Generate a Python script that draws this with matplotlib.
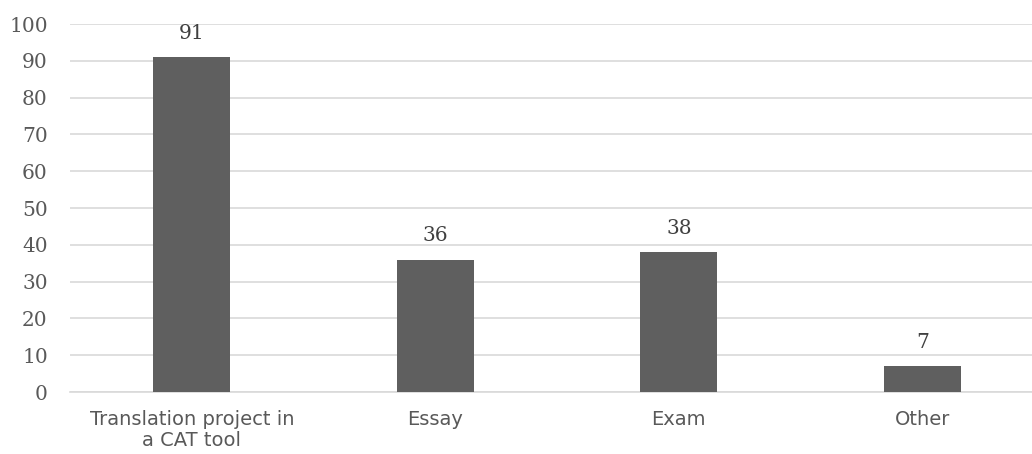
import matplotlib.pyplot as plt

categories = ["Translation project in\na CAT tool", "Essay", "Exam", "Other"]
values = [91, 36, 38, 7]
y_ticks = [0, 10, 20, 30, 40, 50, 60, 70, 80, 90, 100]

BAR_COLOR = "#5f5f5f"
TEXT_COLOR = "#404040"
GRID_COLOR = "#d9d9d9"

fig = plt.figure(figsize=(10.32, 4.54), dpi=100)
ax = fig.add_axes([70 / 1032, 1 - 392 / 454, 1 - 70 / 1032, (392 - 24) / 454])

x = list(range(len(categories)))
ax.bar(x, values, width=0.316, color=BAR_COLOR, zorder=3)

# value labels sit a fixed distance above each bar
for xi, v in zip(x, values):
    ax.annotate(str(v), (xi, v), xytext=(0, 13), textcoords="offset points",
                ha="center", va="baseline", fontsize=14.5,
                family="DejaVu Serif", color=TEXT_COLOR)

ax.set_xlim(-0.5, 3.45)
ax.set_ylim(0, 100)
ax.set_yticks(y_ticks)
ax.set_yticklabels([str(t) for t in y_ticks], family="DejaVu Serif",
                   fontsize=14.5, color="#595959")
ax.set_xticks(x)
ax.set_xticklabels(categories, family="DejaVu Sans", fontsize=14,
                   color="#595959", linespacing=1.15)

ax.yaxis.grid(True, color=GRID_COLOR, linewidth=1.2, zorder=0)
ax.tick_params(axis="both", length=0)
ax.tick_params(axis="y", pad=16)
ax.tick_params(axis="x", pad=13)
for side in ["top", "right", "left"]:
    ax.spines[side].set_visible(False)
ax.spines["bottom"].set_color(GRID_COLOR)
ax.spines["bottom"].set_linewidth(1.2)

fig.savefig("out.png", dpi=100)
